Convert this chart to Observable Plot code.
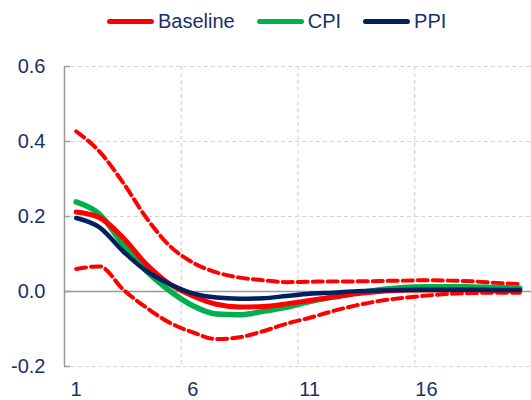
<!DOCTYPE html>
<html>
<head>
<meta charset="utf-8">
<script src="https://cdn.jsdelivr.net/npm/d3@7"></script>
<script src="https://cdn.jsdelivr.net/npm/@observablehq/plot@0.6"></script>
<style>
  html, body { margin: 0; padding: 0; background: #fff; }
  #wrap { width: 531px; height: 400px; overflow: hidden; font-family: "Liberation Sans", Arial, sans-serif; }
  #legend { height: 42px; position: relative; }
  #legend .items { position: absolute; left: 107px; top: 9px; display: flex; align-items: center; white-space: nowrap; }
  #legend .item { display: flex; align-items: center; margin-right: 22px; font-size: 20px; color: #17306A; line-height: 24px; }
  #legend .sw { display: inline-block; width: 47px; height: 5px; border-radius: 3px; margin-right: 4px; }
  svg { display: block; }
</style>
</head>
<body>
<div id="wrap">
  <div id="legend"><div class="items"></div></div>
  <div id="chart"></div>
</div>
<script>
// ---- data ----
const periods = [1,2,3,4,5,6,7,8,9,10,11,12,13,14,15,16,17,18,19,20];
const baseline = [0.212,0.197,0.144,0.073,0.020,-0.012,-0.034,-0.041,-0.040,-0.033,-0.024,-0.015,-0.006,0.000,0.003,0.004,0.004,0.004,0.003,0.003];
const baselineUpper = [0.427,0.373,0.291,0.197,0.122,0.077,0.051,0.037,0.030,0.025,0.026,0.027,0.027,0.028,0.029,0.030,0.029,0.027,0.023,0.020];
const baselineLower = [0.060,0.067,0.006,-0.043,-0.083,-0.109,-0.127,-0.122,-0.106,-0.086,-0.070,-0.052,-0.037,-0.025,-0.017,-0.011,-0.006,-0.004,-0.003,-0.003];
const cpi = [0.239,0.206,0.126,0.055,0.002,-0.038,-0.060,-0.062,-0.053,-0.042,-0.027,-0.015,-0.004,0.005,0.011,0.013,0.013,0.012,0.011,0.009];
const ppi = [0.196,0.171,0.108,0.055,0.020,-0.005,-0.016,-0.019,-0.018,-0.012,-0.006,-0.003,0.001,0.003,0.004,0.005,0.005,0.005,0.004,0.004];
const seriesNames = ["Baseline", "CPI", "PPI"];
const seriesColors = ["#FF0000", "#00B050", "#002060"];
const xTickLabels = [1, 6, 11, 16];
const xGridLines = [5.5, 10.5, 15.5, 20.5];
const yTicks = [-0.2, 0.0, 0.2, 0.4, 0.6];

// ---- legend ----
const items = document.querySelector("#legend .items");
seriesNames.forEach((name, i) => {
  const it = document.createElement("div");
  it.className = "item";
  const sw = document.createElement("span");
  sw.className = "sw";
  sw.style.background = seriesColors[i];
  it.appendChild(sw);
  it.appendChild(document.createTextNode(name));
  items.appendChild(it);
});

// ---- chart ----
const rows = (vals) => periods.map((p, i) => ({x: p, y: vals[i]}));
const textColor = "#17306A";
const axisGray = "#999999";
const gridGray = "#D4D4D4";

const chart = Plot.plot({
  width: 531,
  height: 358,
  marginLeft: 64,
  marginRight: 0,
  marginTop: 24,
  marginBottom: 34,
  style: {fontFamily: "'Liberation Sans', Arial, sans-serif", fontSize: "20px", color: textColor, background: "white", overflow: "visible"},
  x: {domain: [0.5, 20.5], label: null},
  y: {domain: [-0.2, 0.6], label: null},
  marks: [
    Plot.gridY(yTicks.filter(d => d !== 0), {stroke: gridGray, strokeOpacity: 1, strokeWidth: 1.2, strokeDasharray: "4,3"}),
    Plot.gridX(xGridLines, {stroke: gridGray, strokeOpacity: 1, strokeWidth: 1.2, strokeDasharray: "4,3"}),
    Plot.ruleY([0], {stroke: axisGray, strokeWidth: 1.5}),
    Plot.ruleX([0.5], {stroke: axisGray, strokeWidth: 1.5}),
    Plot.ruleY(yTicks, {x1: 0.5, x2: 0.76, stroke: axisGray, strokeWidth: 1.5}),
    Plot.axisY(yTicks, {tickSize: 0, tickPadding: 19, tickFormat: d => d.toFixed(1), fontSize: 20, fill: textColor, label: null}),
    Plot.axisX(xTickLabels, {tickSize: 0, tickPadding: 15, tickFormat: d => String(d), fontSize: 20, fill: textColor, label: null}),
    Plot.line(rows(baselineUpper), {x: "x", y: "y", stroke: seriesColors[0], strokeWidth: 4, strokeDasharray: "10,5", curve: "monotone-x"}),
    Plot.line(rows(baselineLower), {x: "x", y: "y", stroke: seriesColors[0], strokeWidth: 4, strokeDasharray: "10,5", curve: "monotone-x"}),
    Plot.line(rows(cpi), {x: "x", y: "y", stroke: seriesColors[1], strokeWidth: 5.5, curve: "monotone-x"}),
    Plot.line(rows(baseline), {x: "x", y: "y", stroke: seriesColors[0], strokeWidth: 5, curve: "monotone-x"}),
    Plot.line(rows(ppi), {x: "x", y: "y", stroke: seriesColors[2], strokeWidth: 4.5, curve: "monotone-x"})
  ]
});
document.getElementById("chart").appendChild(chart);
</script>
</body>
</html>
